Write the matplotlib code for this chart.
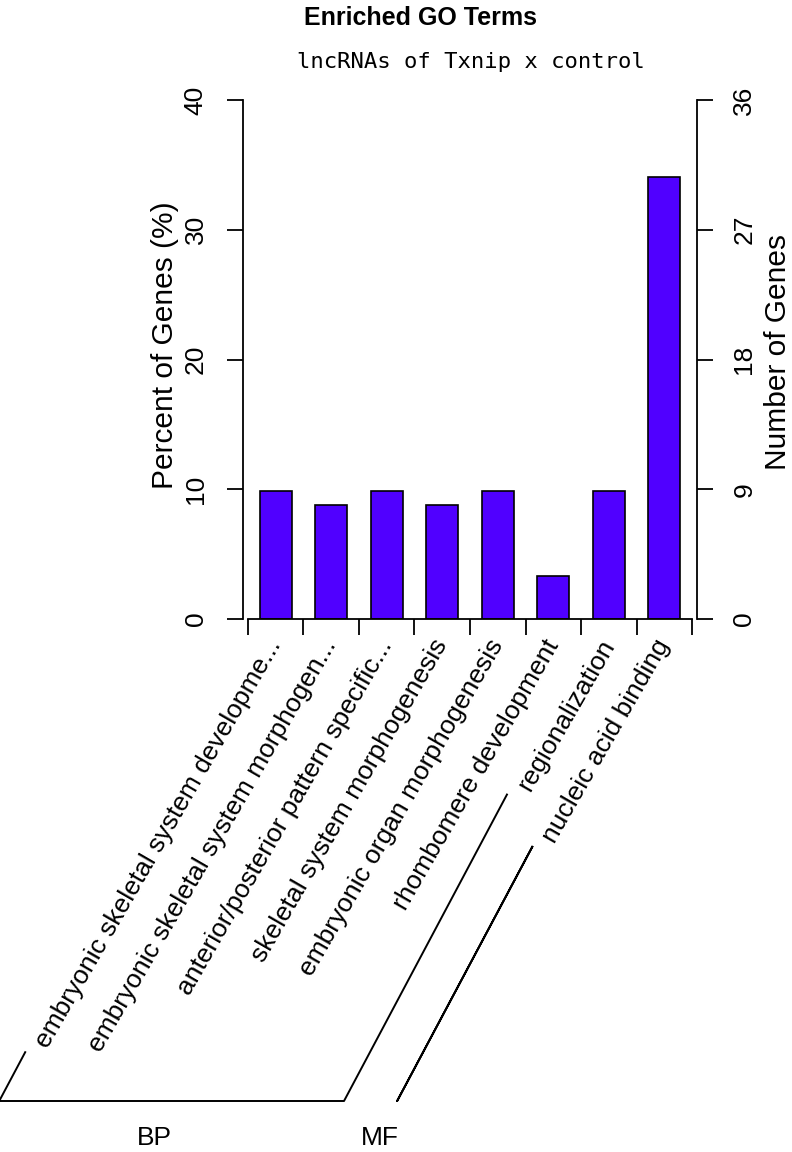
import numpy as np
import matplotlib
matplotlib.use("Agg")
import matplotlib.pyplot as plt
import matplotlib.transforms as mtransforms
from matplotlib.lines import Line2D

plt.rcParams['font.family'] = ['Liberation Sans', 'DejaVu Sans']

terms = ["embryonic skeletal system developme...",
         "embryonic skeletal system morphogen...",
         "anterior/posterior pattern specific...",
         "skeletal system morphogenesis",
         "embryonic organ morphogenesis",
         "rhombomere development",
         "regionalization",
         "nucleic acid binding"]
category = ["BP", "BP", "BP", "BP", "BP", "BP", "BP", "MF"]
percent = [9.89, 8.79, 9.89, 8.79, 9.89, 3.30, 9.89, 34.07]
pct_ticks = [0, 10, 20, 30, 40]
gene_ticks = [0, 9, 18, 27, 36]

W, H = 792, 1152
fig = plt.figure(figsize=(W / 100, H / 100), dpi=100)
ax = fig.add_axes([243 / W, (H - 619) / H, (697 - 243) / W, (619 - 100) / H])

x = np.arange(len(terms))
ax.bar(x, percent, width=0.58, color="#5000FF", edgecolor="black", linewidth=1.2)
ax.set_xlim(-0.59, 7.59)
ax.set_ylim(0, 40)
ax.set_yticks(pct_ticks)
ax.set_xticks(np.arange(len(terms) + 1) - 0.5)
ax.set_xticklabels([])
for s in ["top", "right"]:
    ax.spines[s].set_visible(False)
ax.spines["left"].set_bounds(0, 40)
ax.spines["bottom"].set_bounds(-0.5, len(terms) - 0.5)
for s in ["left", "bottom"]:
    ax.spines[s].set_linewidth(1.3)
ax.tick_params(axis="y", direction="out", length=11.5, width=1.3, pad=14,
               labelsize=19, labelrotation=90)
ax.tick_params(axis="x", direction="out", length=11.5, width=1.3)
for t in ax.get_yticklabels():
    t.set_va("center")

ax2 = ax.twinx()
ax2.set_ylim(0, 36)
ax2.set_yticks(gene_ticks)
for s in ["top", "left", "bottom"]:
    ax2.spines[s].set_visible(False)
ax2.spines["right"].set_bounds(0, 36)
ax2.spines["right"].set_linewidth(1.3)
ax2.tick_params(axis="y", direction="out", length=11.5, width=1.3, pad=14,
                labelsize=19, labelrotation=90)
for t in ax2.get_yticklabels():
    t.set_va("center")

fig.text(165 / W, 1 - 345 / H, "Percent of Genes (%)", rotation=90,
         ha="center", va="center", fontsize=21.5)
fig.text(778 / W, 1 - 352 / H, "Number of Genes", rotation=90,
         ha="center", va="center", fontsize=21.5)
fig.text(421 / W, 1 - 18 / H, "Enriched GO Terms", ha="center", va="center",
         fontsize=18, fontweight="bold")
fig.text(471 / W, 1 - 62 / H, "lncRNAs of Txnip x control", ha="center",
         va="center", fontsize=16, family="DejaVu Sans Mono")

# rotated category labels under the bars
trans = mtransforms.blended_transform_factory(ax.transData, ax.transAxes)
labels = []
for i, term in enumerate(terms):
    t = ax.text(i, -22 / 519, term, transform=trans, rotation=60,
                rotation_mode="anchor", ha="right", va="center",
                fontsize=19, clip_on=False)
    labels.append(t)

# group brackets drawn parallel to the labels
fig.canvas.draw()
rend = fig.canvas.get_renderer()
c, s = np.cos(np.radians(60)), np.sin(np.radians(60))
corners = []
for t in labels:
    bb = t.get_window_extent(rend)
    hh = (bb.height * c - bb.width * s) / (c * c - s * s)
    corners.append((bb.x0 + hh * s - 27, bb.y0))

base_y = H - 1101
slope = np.tan(np.radians(62))
groups = []
for g in category:
    if g not in groups:
        groups.append(g)
for g in groups:
    idx = [i for i, cat in enumerate(category) if cat == g]
    x0t, y0t = corners[idx[0]]
    x1t, y1t = corners[idx[-1]]
    x0b = x0t - (y0t - base_y) / slope
    x1b = x1t - (y1t - base_y) / slope
    xs = [x0t, x0b, x1b, x1t]
    ys = [y0t, base_y, base_y, y1t]
    fig.add_artist(Line2D(np.array(xs) / W, np.array(ys) / H,
                          transform=fig.transFigure, color="black", lw=1.4))
    fig.text(((x0b + x1b) / 2 - 17) / W, (H - 1138) / H, g, ha="center",
             va="center", fontsize=19)

fig.savefig("out.png", dpi=100)
